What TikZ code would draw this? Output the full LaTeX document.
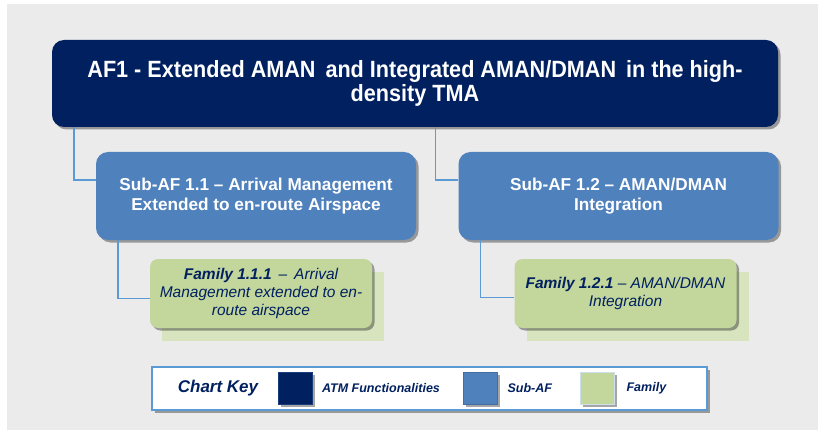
\documentclass[tikz,border=0pt]{standalone}
\usepackage{fontspec}
\setmainfont{Liberation Sans}
\newfontfamily\narrowfont{Liberation Sans}[FakeStretch=0.92]
\usetikzlibrary{shadows, positioning, calc}

\definecolor{afnavy}{HTML}{002060}
\definecolor{subblue}{HTML}{4F81BD}
\definecolor{famgreen}{HTML}{C3D69B}
\definecolor{famback}{HTML}{D7E4BD}
\definecolor{linkblue}{HTML}{5B9BD5}
\definecolor{keyedge}{HTML}{5B9BD5}
\definecolor{bggrey}{HTML}{EBEBEB}

\tikzset{
  boxshadow/.style={drop shadow={shadow xshift=2.5pt, shadow yshift=-2.5pt, opacity=0.35, fill=black}},
  afbox/.style={rounded corners=12pt, fill=afnavy, text=white, align=center,
    font={\narrowfont\bfseries\fontsize{23.5}{24}\selectfont}, minimum width=726pt, minimum height=87pt, boxshadow},
  subbox/.style={rounded corners=12pt, fill=subblue, text=white, align=center,
    font={\bfseries\fontsize{17.2}{19.5}\selectfont}, minimum width=320pt, minimum height=88pt, boxshadow},
  fambox/.style={rounded corners=8pt, fill=famgreen, text=afnavy, align=center,
    font={\itshape\fontsize{15.5}{18}\selectfont}, minimum width=222pt, minimum height=69pt, boxshadow},
  famstack/.style={fill=famback, minimum width=222pt, minimum height=69pt},
  link/.style={draw=linkblue, line width=1.5pt},
  keybox/.style={draw=keyedge, line width=2pt, fill=white, minimum width=555pt, minimum height=43pt, boxshadow},
  swatch/.style={draw=#1, line width=0.8pt, minimum width=34pt, minimum height=32pt, boxshadow},
  keytext/.style={text=afnavy, font={\bfseries\itshape\fontsize{12.5}{14}\selectfont}, inner sep=1pt}
}

\begin{document}
\begin{tikzpicture}[x=1pt, y=-1pt]
  \useasboundingbox (0,0) rectangle (818,430);
  \fill[bggrey] (7,4) rectangle (818,430);

  % Define the nodes
  \node[afbox] (af1) at (415,83.5) {AF1 - Extended AMAN\, and Integrated AMAN/DMAN\, in the high-\\density TMA};
  \node[subbox] (sub11) at (256,196) {Sub-AF 1.1 -- Arrival Management\\Extended to en-route Airspace};
  \node[subbox] (sub12) at (618.5,196) {Sub-AF 1.2 -- AMAN/DMAN\\Integration};
  \node[famstack] (fam111b) at (273,306.5) {};
  \node[fambox] (fam111) at (261,293.5) {\textbf{Family 1.1.1}\, --\, Arrival\\Management extended to en-\\route airspace};
  \node[famstack] (fam121b) at (637.5,306.5) {};
  \node[fambox] (fam121) at (625.5,293.5) {\textbf{Family 1.2.1} -- AMAN/DMAN\\Integration};

  % Draw the edges
  \draw[link] ([xshift=22pt]af1.south west) |- ([yshift=16pt]sub11.west);
  \draw[link] ([xshift=-23pt]sub12.north west |- af1.south) |- ([yshift=16pt]sub12.west);
  \draw[link] ([xshift=22pt]sub11.south west) |- ([yshift=-5pt]fam111.west);
  \draw[link] ([xshift=22pt]sub12.south west) |- ([yshift=-4pt]fam121.west);

  % Chart key
  \node[keybox] (key) at (429.5,388.5) {};
  \node[text=afnavy, font={\bfseries\itshape\fontsize{17}{20}\selectfont}] (keyname) at (218,388) {Chart Key};
  \node[swatch=afnavy!70!subblue, fill=afnavy] (keyaf) at (295.5,388) {};
  \node[keytext, right=8pt of keyaf] (keyaflbl) {ATM Functionalities};
  \node[swatch=subblue!85!black, fill=subblue] (keysub) at (480,388) {};
  \node[keytext, right=9pt of keysub] (keysublbl) {Sub-AF};
  \node[swatch=famback!30!linkblue!40!white, fill=famgreen] (keyfam) at (597,388) {};
  \node[keytext, right=11pt of keyfam] (keyfamlbl) {Family};
\end{tikzpicture}
\end{document}
